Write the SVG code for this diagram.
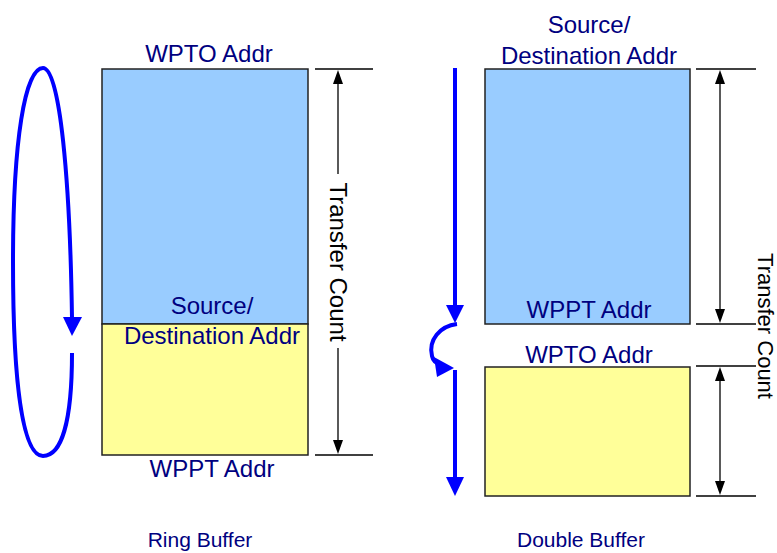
<svg xmlns="http://www.w3.org/2000/svg" width="777" height="553" viewBox="0 0 777 553">
<defs>
<style>
.lbl{font-family:"Liberation Sans",Arial,sans-serif;font-size:24px;fill:#000080;text-anchor:middle}
.cap{font-family:"Liberation Sans",Arial,sans-serif;font-size:21px;fill:#000080;text-anchor:middle}
.tc{font-family:"Liberation Sans",Arial,sans-serif;fill:#000;text-anchor:middle}
.blue{fill:#99CCFF;stroke:#222;stroke-width:1.5}
.yel{fill:#FFFF99;stroke:#222;stroke-width:1.5}
.tick{stroke:#000;stroke-width:1.3;fill:none}
.dim{stroke:#000;stroke-width:1.3;fill:none}
.flow{stroke:#0000FF;stroke-width:4;fill:none}
</style>
</defs>
<rect width="777" height="553" fill="#fff"/>

<g id="ring-buffer">
<rect class="blue" x="102" y="69" width="206" height="255"/>
<rect class="yel" x="102" y="324" width="206" height="131"/>
<text class="lbl" x="209" y="62">WPTO Addr</text>
<text class="lbl" x="212" y="314">Source/</text>
<text class="lbl" x="212" y="344">Destination Addr</text>
<text class="lbl" x="212" y="477">WPPT Addr</text>
</g>

<g id="ring-dim">
<line class="tick" x1="315" y1="69" x2="373" y2="69"/>
<line class="tick" x1="315" y1="455" x2="373" y2="455"/>
<line class="dim" x1="338" y1="84" x2="338" y2="174"/>
<line class="dim" x1="338" y1="348" x2="338" y2="440"/>
<path d="M338,70 L333,84 L343,84 Z"/>
<path d="M338,454 L333,440 L343,440 Z"/>
<text class="tc" font-size="24" transform="translate(330,262) rotate(90)">Transfer Count</text>
</g>

<g id="double-buffer">
<rect class="blue" x="485" y="69" width="205" height="255"/>
<rect class="yel" x="485" y="367" width="205" height="129"/>
<text class="lbl" x="589" y="33">Source/</text>
<text class="lbl" x="589" y="64">Destination Addr</text>
<text class="lbl" x="589" y="318">WPPT Addr</text>
<text class="lbl" x="589" y="363">WPTO Addr</text>
</g>

<g id="double-dim">
<line class="tick" x1="696" y1="69" x2="756" y2="69"/>
<line class="tick" x1="696" y1="324" x2="756" y2="324"/>
<line class="tick" x1="696" y1="366" x2="756" y2="366"/>
<line class="tick" x1="696" y1="496" x2="756" y2="496"/>
<line class="dim" x1="720" y1="84" x2="720" y2="309"/>
<path d="M720,70 L715,84 L725,84 Z"/>
<path d="M720,323 L715,309 L725,309 Z"/>
<line class="dim" x1="720" y1="381" x2="720" y2="481"/>
<path d="M720,367 L715,381 L725,381 Z"/>
<path d="M720,495 L715,481 L725,481 Z"/>
<text class="tc" font-size="22" transform="translate(758,326) rotate(90)">Transfer Count</text>
</g>

<g id="connectors">
<path class="flow" d="M72,353 C72,420 62,456 43,456 C22,456 13,380 13,262 C13,140 25,68 43,68 C60,68 70,180 72,318"/>
<path d="M72,336 L63,317 L82,317 Z" fill="#0000FF"/>
<line class="flow" x1="455" y1="68" x2="455" y2="306"/>
<path d="M455,323 L446,305 L464,305 Z" fill="#0000FF"/>
<path class="flow" d="M457,324 C440,326 428,340 432,356 C433,361 436,363 440,364"/>
<path d="M454,368 L434,357 L437,377 Z" fill="#0000FF"/>
<line class="flow" x1="455" y1="370" x2="455" y2="478"/>
<path d="M455,496 L446,477 L464,477 Z" fill="#0000FF"/>
</g>

<g id="captions">
<text class="cap" x="200" y="547">Ring Buffer</text>
<text class="cap" x="581" y="547">Double Buffer</text>
</g>
</svg>
